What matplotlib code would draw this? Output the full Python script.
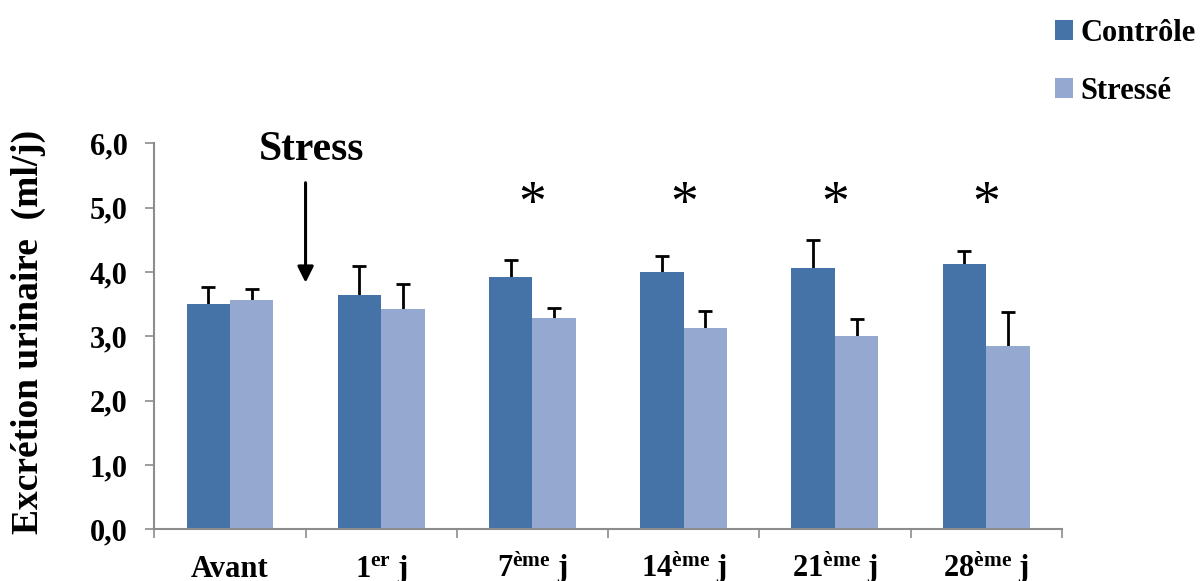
import matplotlib
matplotlib.use("Agg")
import matplotlib.pyplot as plt
import numpy as np

plt.rcParams['font.family'] = ['Liberation Serif', 'DejaVu Serif']
plt.rcParams['font.weight'] = 'bold'
plt.rcParams['axes.labelweight'] = 'bold'
plt.rcParams['mathtext.fontset'] = 'custom'
plt.rcParams['mathtext.rm'] = 'Liberation Serif:bold'
plt.rcParams['mathtext.bf'] = 'Liberation Serif:bold'
plt.rcParams['mathtext.it'] = 'Liberation Serif:bold'

jours = ["Avant", r"1$^{\mathrm{er}}$ j", r"7$^{\mathrm{ème}}$ j",
         r"14$^{\mathrm{ème}}$ j", r"21$^{\mathrm{ème}}$ j", r"28$^{\mathrm{ème}}$ j"]
controle = [3.50, 3.64, 3.92, 4.00, 4.06, 4.13]
controle_err = [0.27, 0.45, 0.26, 0.25, 0.43, 0.19]
stresse = [3.56, 3.42, 3.28, 3.13, 3.00, 2.85]
stresse_err = [0.17, 0.40, 0.16, 0.26, 0.27, 0.53]
signif = [False, False, True, True, True, True]

bleu = '#4573A7'
bleu_clair = '#95A9D0'
gris = '#8C8C8C'

fig = plt.figure(figsize=(12, 5.81), dpi=100)
ax = fig.add_axes([0.1286, 0.0890, 0.7562, 0.6644])

x = np.arange(len(jours))
w = 0.287
b1 = ax.bar(x - w / 2, controle, w, color=bleu, label="Contrôle", zorder=2)
b2 = ax.bar(x + w / 2, stresse, w, color=bleu_clair, label="Stressé", zorder=2)

# barres d'erreur vers le haut seulement : on cache le trait du bas
for pos, val, err in [(x - w / 2, controle, controle_err), (x + w / 2, stresse, stresse_err)]:
    eb = ax.errorbar(pos, val, yerr=[np.zeros(len(x)), err], fmt='none',
                     ecolor='black', elinewidth=2, capsize=4.8, capthick=2, zorder=1)
    for cap in eb[1]:
        if np.allclose(cap.get_ydata(), val):
            cap.set_visible(False)

ax.set_xlim(-0.5, len(jours) - 0.5)
ax.set_ylim(0, 6)

ax.set_yticks(np.arange(0, 7, 1))
ax.set_yticklabels([f"{v:.1f}".replace('.', ',') for v in np.arange(0, 7, 1)])
ax.tick_params(axis='y', labelsize=22, length=6.3, width=1.2, color=gris, pad=13)

ax.set_xticks(x)
ax.set_xticklabels(jours)
ax.set_xticks(np.arange(-0.5, len(jours), 1), minor=True)
ax.tick_params(axis='x', which='major', length=0, labelsize=22, pad=34)
ax.tick_params(axis='x', which='minor', length=6.3, width=1.2, color=gris)
for lbl in ax.get_xticklabels():
    lbl.set_va('baseline')

for s in ['top', 'right']:
    ax.spines[s].set_visible(False)
for s in ['left', 'bottom']:
    ax.spines[s].set_color(gris)
    ax.spines[s].set_linewidth(1.5)

ax.set_ylabel("Excrétion urinaire  (ml/j)", fontsize=27, fontweight='bold', va='center')
ax.yaxis.set_label_coords(-0.1386, 0.51)

# astérisques de significativité
for i, s in enumerate(signif):
    if s:
        ax.text(i, 5.03, "*", ha='center', va='center', fontsize=40,
                fontweight='normal')

# flèche indiquant le début du stress
ax.annotate("", xy=(0.5, 3.79), xytext=(0.5, 5.43),
            arrowprops=dict(arrowstyle='-|>', color='black', lw=2.2,
                            mutation_scale=24))
ax.text(0.54, 5.9, "Stress", ha='center', va='center', fontsize=30)

fig.legend(handles=[b1, b2], loc='upper left', bbox_to_anchor=(0.879, 0.968),
           frameon=False, fontsize=22, handlelength=0.6, handleheight=0.6,
           handletextpad=0.25, labelspacing=0.96, borderpad=0, borderaxespad=0)

fig.savefig("out.png", dpi=100)
